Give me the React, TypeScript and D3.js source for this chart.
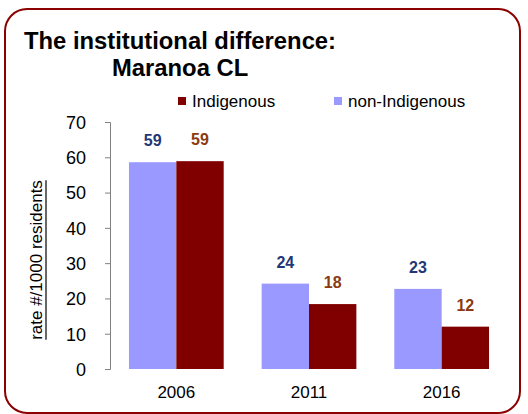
import * as d3 from "d3";
import { useEffect, useRef } from "react";

const years = ["2006", "2011", "2016"];
const indigenous = [58.9, 18.4, 12.0];
const nonIndigenous = [58.6, 24.2, 22.7];
const indigenousLabels = ["59", "18", "12"];
const nonIndigenousLabels = ["59", "24", "23"];
const yTicks = [0, 10, 20, 30, 40, 50, 60, 70];

const App = () => {
  const ref = useRef<SVGSVGElement>(null);

  useEffect(() => {
    const svg = d3.select(ref.current);
    svg.selectAll("*").remove();
    const font = "Liberation Sans, Arial, sans-serif";

    // frame
    svg
      .append("rect")
      .attr("x", 5)
      .attr("y", 9)
      .attr("width", 515)
      .attr("height", 404)
      .attr("rx", 22)
      .attr("fill", "white")
      .attr("stroke", "#8b0000")
      .attr("stroke-width", 2);

    // title
    svg
      .append("text")
      .attr("x", 24)
      .attr("y", 49)
      .style("font", `bold 23.8px ${font}`)
      .text("The institutional difference:");
    svg
      .append("text")
      .attr("x", 112)
      .attr("y", 76)
      .style("font", `bold 23.8px ${font}`)
      .text("Maranoa CL");

    // legend
    const legend = [
      { name: "Indigenous", color: "#800000", x: 178 },
      { name: "non-Indigenous", color: "#9999ff", x: 334 },
    ];
    legend.forEach((l) => {
      svg.append("rect").attr("x", l.x).attr("y", 97).attr("width", 8).attr("height", 8).attr("fill", l.color);
      svg
        .append("text")
        .attr("x", l.x + 14)
        .attr("y", 107)
        .style("font", `17px ${font}`)
        .text(l.name);
    });

    const x = d3.scaleBand().domain(years).range([110, 508]).paddingInner(0.286).paddingOuter(0.143);
    const y = d3.scaleLinear().domain([0, 70]).range([369, 122]);

    // Y axis
    const yAxis = svg
      .append("g")
      .attr("transform", "translate(110,0)")
      .call(d3.axisLeft(y).tickValues(yTicks).tickSize(5).tickPadding(19).tickSizeOuter(5));
    yAxis.selectAll("path, line").attr("stroke", "#808080");
    yAxis.selectAll("text").style("font", `18px ${font}`).attr("fill", "#000").attr("dy", "0.35em");

    // Y label (underlined)
    const yl = svg
      .append("text")
      .attr("transform", "translate(42,260) rotate(-90)")
      .attr("text-anchor", "middle")
      .style("font", `17px ${font}`)
      .text("rate #/1000 residents");
    const bb = (yl.node() as SVGTextElement).getBBox();
    svg
      .append("line")
      .attr("x1", 46)
      .attr("x2", 46)
      .attr("y1", 260 - bb.width / 2)
      .attr("y2", 260 + bb.width / 2)
      .attr("stroke", "#000")
      .attr("stroke-width", 1.2);

    const bw = x.bandwidth() / 2;

    // bars
    const series = [
      { vals: nonIndigenous, labels: nonIndigenousLabels, color: "#9999ff", labelColor: "#1f3877", off: 0 },
      { vals: indigenous, labels: indigenousLabels, color: "#800000", labelColor: "#8b3a12", off: bw },
    ];
    series.forEach((s) => {
      svg
        .append("g")
        .selectAll("rect")
        .data(years)
        .join("rect")
        .attr("x", (d) => (x(d) as number) + s.off)
        .attr("y", (d, i) => y(s.vals[i]))
        .attr("width", bw)
        .attr("height", (d, i) => y(0) - y(s.vals[i]))
        .attr("fill", s.color);
      svg
        .append("g")
        .selectAll("text")
        .data(years)
        .join("text")
        .attr("x", (d) => (x(d) as number) + s.off + bw / 2)
        .attr("y", (d, i) => y(s.vals[i]) - 16)
        .attr("text-anchor", "middle")
        .attr("fill", s.labelColor)
        .style("font", `bold 16px ${font}`)
        .text((d, i) => s.labels[i]);
    });

    // x labels
    svg
      .append("g")
      .selectAll("text")
      .data(years)
      .join("text")
      .attr("x", (d) => (x(d) as number) + x.bandwidth() / 2)
      .attr("y", 398)
      .attr("text-anchor", "middle")
      .style("font", `17px ${font}`)
      .text((d) => d);
  }, []);

  return <svg ref={ref} width={528} height={414} style={{ position: "absolute", left: 0, top: 0 }} />;
};

export default App;
